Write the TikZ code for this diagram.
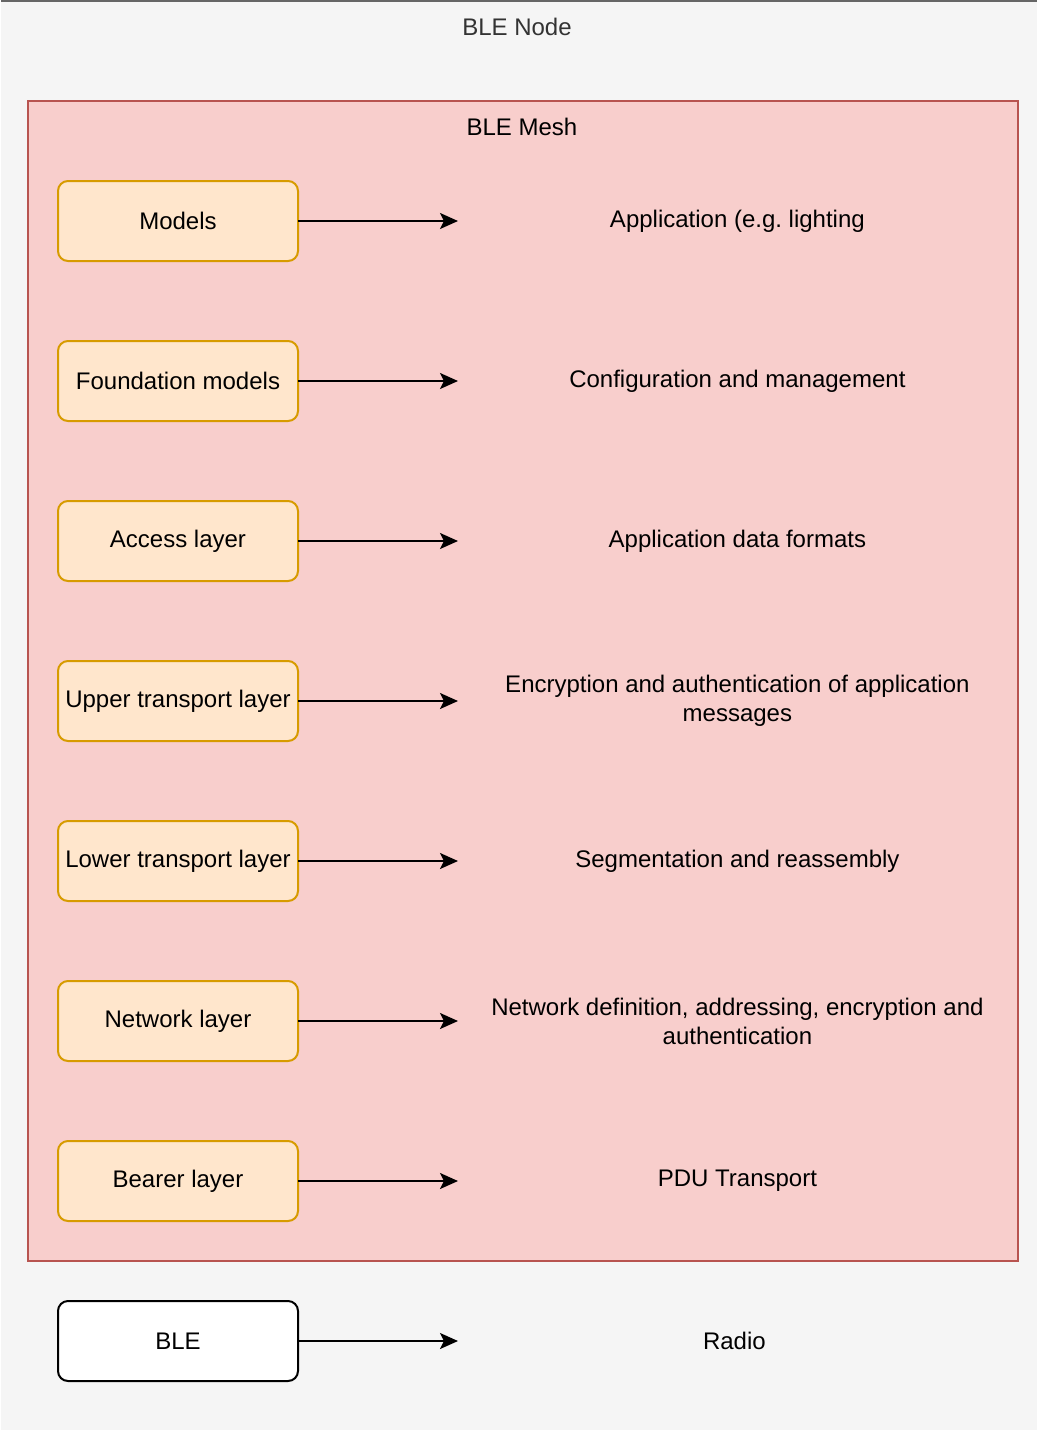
\documentclass[tikz,border=0pt]{standalone}
\usepackage{fontspec}
\setmainfont{Liberation Sans}
\usepackage{tikz}
\usetikzlibrary{positioning,arrows.meta}

\definecolor{nodebg}{HTML}{F5F5F5}
\definecolor{nodeline}{HTML}{666666}
\definecolor{nodetext}{HTML}{333333}
\definecolor{meshfill}{HTML}{F8CECC}
\definecolor{meshline}{HTML}{B85450}
\definecolor{layerfill}{HTML}{FFE6CC}
\definecolor{layerline}{HTML}{D79B00}

\begin{document}
\begin{tikzpicture}[
x=0.5pt, y=0.5pt,
node distance=40pt,
font=\fontsize{12}{14.5}\selectfont,
layer/.style={draw=layerline, fill=layerfill, rounded corners=5pt, line width=1pt, minimum width=120pt, minimum height=40pt, inner sep=0pt, outer sep=0pt, align=center},
desc/.style={inner ysep=0pt, inner xsep=14.5pt, text width=250pt, align=flush center},
arrow/.style={-{Stealth[length=9pt, width=8pt, inset=2pt]}, line width=1pt, black}
]
% background and outer container
\fill[nodebg] (0,0) rectangle (1036,-1430);
\draw[nodeline, line width=1pt] (0,-1) -- (1036,-1);
\node[text=nodetext] (nodetitle) at (516,-27) {BLE Node};

% mesh container
\draw[meshline, fill=meshfill, line width=1pt] (27,-101) rectangle (1017,-1261);
\node (meshtitle) at (521,-127) {BLE Mesh};

% layers
\node[layer] (models) at (177,-221) {Models};
\node[layer, below=of models] (found) {Foundation models};
\node[layer, below=of found] (access) {Access layer};
\node[layer, below=of access] (upper) {Upper transport layer};
\node[layer, below=of upper] (lower) {Lower transport layer};
\node[layer, below=of lower] (network) {Network layer};
\node[layer, below=of network] (bearer) {Bearer layer};
\node[layer, draw=black, fill=white, below=of bearer] (ble) {BLE};

% descriptions
\node[desc, right=80pt of models] (app) {Application (e.g.\ lighting};
\node[desc, right=80pt of found] (config) {Configuration and management};
\node[desc, right=80pt of access] (formats) {Application data formats};
\node[desc, right=80pt of upper] (encrypt) {Encryption and authentication of application messages};
\node[desc, right=80pt of lower] (segment) {Segmentation and reassembly};
\node[desc, right=80pt of network] (netdef) {Network definition, addressing, encryption and authentication};
\node[desc, right=80pt of bearer] (pdu) {PDU Transport};
\node[desc, right=80pt of ble, xshift=-1.5pt] (radio) {Radio};

\draw[arrow] (models) -- (app);
\draw[arrow] (found) -- (config);
\draw[arrow] (access) -- (formats);
\draw[arrow] (upper) -- (encrypt);
\draw[arrow] (lower) -- (segment);
\draw[arrow] (network) -- (netdef);
\draw[arrow] (bearer) -- (pdu);
\draw[arrow] (ble) -- (ble.east -| pdu.west);
\end{tikzpicture}
\end{document}
